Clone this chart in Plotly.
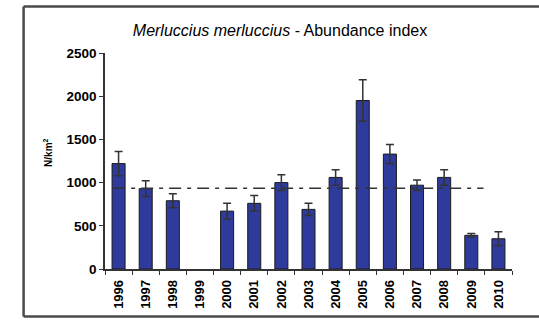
import plotly.graph_objects as go

# Abundance index of Merluccius merluccius (N/km2)
years = ['1996', '1997', '1998', '1999', '2000', '2001', '2002', '2003',
         '2004', '2005', '2006', '2007', '2008', '2009', '2010']
abundance = [1220, 930, 790, None, 670, 760, 1000, 690,
             1060, 1950, 1330, 970, 1060, 390, 350]
error = [140, 90, 80, None, 90, 90, 90, 70,
         90, 240, 110, 60, 90, 20, 80]
mean_index = 935

FONT = 'Liberation Sans, Arial, sans-serif'

fig = go.Figure()

fig.add_trace(go.Bar(
    x=years,
    y=abundance,
    marker=dict(color='#2f3b9c', line=dict(color='#1a1a1a', width=1)),
    error_y=dict(type='data', array=error, visible=True,
                 color='#333333', thickness=1.5, width=4),
    showlegend=False,
))

# long-term mean as a dash-dot reference line
fig.add_shape(type='line', xref='x', yref='y',
              x0=-0.2, x1=13.45, y0=mean_index, y1=mean_index,
              line=dict(color='#333333', width=1.5, dash='12px,6px,4px,6px'))

# outer frame around the panel: left, top and bottom edges (right side is cut off)
frame = dict(color='#4a4a4a', width=2.5)
fig.add_shape(type='line', xref='paper', yref='paper',
              x0=-0.2, x1=-0.2, y0=-0.22, y1=1.215, line=frame, layer='below')
fig.add_shape(type='line', xref='paper', yref='paper',
              x0=-0.2, x1=1.1, y0=1.215, y1=1.215, line=frame, layer='below')
fig.add_shape(type='line', xref='paper', yref='paper',
              x0=-0.2, x1=1.1, y0=-0.22, y1=-0.22, line=frame, layer='below')

fig.add_annotation(text='<b>N/km<sup>2</sup></b>', xref='paper', yref='paper',
                   x=-0.16, y=0.537, textangle=-90, showarrow=False,
                   font=dict(family=FONT, size=10, color='black'))

fig.update_layout(
    width=539, height=321,
    margin=dict(l=105, r=27, t=53, b=50),
    paper_bgcolor='white', plot_bgcolor='white',
    bargap=0.52,
    title=dict(text='<i>Merluccius merluccius</i> - Abundance index',
               x=280 / 539, xanchor='center', y=1 - 30 / 321, yanchor='middle',
               font=dict(family=FONT, size=16, color='black')),
    font=dict(family=FONT, color='black'),
)

fig.update_xaxes(type='category', tickangle=-90, ticks='outside', ticklen=4,
                 tickson='boundaries', tickcolor='#333333', ticklabelstandoff=4,
                 showline=True, linecolor='#333333', linewidth=1.5,
                 showgrid=False, tickfont=dict(size=13, weight='bold'))
fig.update_yaxes(range=[0, 2500], dtick=500, ticks='outside', ticklen=4,
                 tickcolor='#333333', showline=True, linecolor='#333333',
                 linewidth=1.5, showgrid=False, zeroline=False,
                 tickfont=dict(size=13.5, weight='bold'))

# drop the default page margin so the figure sits at the window's corner
fig.write_html('out.html', config={'displayModeBar': False}, post_script=(
    "document.body.style.margin='0';"
    "document.body.style.overflow='hidden';"))
